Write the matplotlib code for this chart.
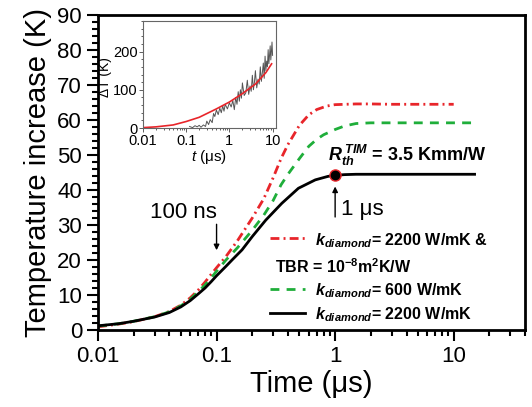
import numpy as np
import matplotlib
matplotlib.use('Agg')
import matplotlib.pyplot as plt
from matplotlib.lines import Line2D
from matplotlib.ticker import MultipleLocator, LogLocator, NullFormatter, FixedLocator

plt.rcParams['font.family'] = ['Liberation Sans', 'DejaVu Sans']
plt.rcParams['mathtext.fontset'] = 'custom'
plt.rcParams['mathtext.rm'] = 'Liberation Sans'
plt.rcParams['mathtext.it'] = 'Liberation Sans:italic'
plt.rcParams['mathtext.bf'] = 'Liberation Sans:bold'
plt.rcParams['mathtext.bfit'] = 'Liberation Sans:italic:bold'

# main curves: time (us) vs temperature increase (K)
t_red = [0.01, 0.015, 0.02, 0.03, 0.04, 0.05, 0.06, 0.07, 0.08, 0.09, 0.1, 0.12, 0.15, 0.2,
         0.25, 0.3, 0.35, 0.4, 0.5, 0.6, 0.7, 0.85, 1.0, 1.5, 2, 3, 5, 10]
T_red = [0.9, 1.7, 2.4, 3.8, 5.3, 7.1, 9.2, 11.4, 13.7, 15.9, 17.8, 21.0, 25.5, 32.0,
         37.5, 43.5, 49.0, 53.0, 58.5, 61.5, 63.0, 64.0, 64.4, 64.6, 64.6, 64.5, 64.5, 64.5]
t_green = [0.01, 0.015, 0.02, 0.03, 0.04, 0.05, 0.06, 0.07, 0.08, 0.09, 0.1, 0.12, 0.15, 0.2,
           0.25, 0.3, 0.35, 0.4, 0.5, 0.6, 0.7, 0.8, 1.0, 1.2, 1.5, 2, 3, 5, 10, 15]
T_green = [1.1, 1.8, 2.5, 3.8, 5.2, 6.9, 8.8, 10.9, 12.9, 14.9, 16.8, 20.0, 23.5, 28.5,
           32.8, 37.0, 41.5, 44.5, 49.0, 52.5, 54.5, 55.8, 57.3, 58.3, 59.0, 59.2, 59.2, 59.2,
           59.2, 59.2]
t_black = [0.01, 0.015, 0.02, 0.03, 0.04, 0.05, 0.06, 0.07, 0.08, 0.09, 0.1, 0.12, 0.135, 0.164,
           0.2, 0.26, 0.355, 0.49, 0.68, 0.87, 1.0, 1.2, 1.5, 2, 3, 5, 10, 15]
T_black = [1.2, 1.8, 2.5, 3.7, 5.0, 6.6, 8.4, 10.3, 12.0, 13.8, 15.5, 18.2, 20.0, 22.9,
           26.7, 31.4, 36.2, 40.5, 42.9, 43.9, 44.2, 44.4, 44.5, 44.5, 44.5, 44.5, 44.5, 44.5]
mark_t, mark_T = 1.0, 44.2

# inset: fit (red) and measured trace (gray)
t_fit = [0.01, 0.02, 0.05, 0.1, 0.2, 0.5, 1, 2, 4, 7, 9.5]
T_fit = [1, 3, 8, 17, 28, 50, 68, 90, 115, 145, 168]
t_meas = [0.12, 0.14, 0.16, 0.18, 0.2, 0.22, 0.25, 0.28, 0.3, 0.33, 0.36, 0.4, 0.43, 0.46,
          0.5, 0.55, 0.6, 0.65, 0.7, 0.75, 0.8, 0.9, 1.0, 1.1, 1.2, 1.3, 1.4, 1.5, 1.6, 1.7,
          1.8, 1.9, 2.0, 2.2, 2.4, 2.6, 2.8, 3.0, 3.2, 3.4, 3.6, 3.8, 4.0, 4.3, 4.6, 4.9,
          5.2, 5.5, 5.8, 6.1, 6.4, 6.7, 7.0, 7.3, 7.6, 7.9, 8.2, 8.5, 8.8, 9.1, 9.4, 9.7, 10.0]
T_meas = [4, 1, 6, 3, 7, 2, 8, 4, 18, 9, 22, 14, 38, 30, 47, 35, 52, 40, 58, 44, 62, 50,
          66, 55, 72, 48, 80, 62, 95, 70, 100, 78, 118, 85, 92, 125, 88, 110, 96, 138, 100,
          120, 150, 105, 128, 115, 160, 122, 145, 170, 130, 188, 150, 175, 160, 205, 168, 190,
          215, 178, 200, 225, 190]

fig = plt.figure(figsize=(5.32, 4.07), dpi=100)
ax = fig.add_axes([0.1842, 0.1892, 0.8028, 0.7738])

ax.plot(t_red, T_red, color='#e8252a', lw=2, dashes=(3.2, 1.5, 0.7, 1.5))
ax.plot(t_green, T_green, color='#1fae3a', lw=2, dashes=(3.2, 2.6))
ax.plot(t_black, T_black, color='black', lw=2)
ax.plot([mark_t], [mark_T], 'o', ms=8, mfc='black', mec='#e8252a', mew=1)

ax.set_xscale('log')
ax.set_xlim(0.01, 40)
ax.set_ylim(0, 90)
ax.yaxis.set_major_locator(MultipleLocator(10))
ax.yaxis.set_minor_locator(MultipleLocator(2))
ax.xaxis.set_major_locator(FixedLocator([0.01, 0.1, 1, 10]))
ax.xaxis.set_minor_locator(LogLocator(base=10, subs=np.arange(2, 10)))
ax.xaxis.set_minor_formatter(NullFormatter())
ax.set_xticklabels(['0.01', '0.1', '1', '10'])
ax.tick_params(which='both', direction='out', top=False, right=False, width=1.5, labelsize=16)
ax.tick_params(which='major', length=8)
ax.tick_params(which='minor', length=4)
for s in ax.spines.values():
    s.set_linewidth(2)
ax.set_xlabel('Time (μs)', fontsize=21, labelpad=2)
ax.set_ylabel('Temperature increase (K)', fontsize=21, labelpad=4)

# annotations
ax.annotate('', xy=(0.1, 22), xytext=(0.1, 31),
            arrowprops=dict(arrowstyle='-|>', color='black', lw=1, mutation_scale=8))
ax.text(0.053, 33.6, '100 ns', fontsize=16, ha='center', va='center')
ax.annotate('', xy=(mark_t, 41.8), xytext=(mark_t, 31.5),
            arrowprops=dict(arrowstyle='-|>', color='black', lw=1, mutation_scale=8))
ax.text(1.12, 34.3, '1 μs', fontsize=16, ha='left', va='center')
ax.text(0.87, 48.3, r'$\mathbfit{R}_{\mathbfit{th}}^{\ \mathbfit{TIM}}$ = 3.5 Kmm/W',
        fontsize=13, fontweight='bold', ha='left', va='baseline')

# hand-placed legend
tr = ax.transAxes
ax.add_line(Line2D([0.403, 0.485], [0.291, 0.291], transform=tr, color='#e8252a', lw=2,
                   dashes=(3.2, 1.5, 0.7, 1.5)))
ax.add_line(Line2D([0.403, 0.485], [0.130, 0.130], transform=tr, color='#1fae3a', lw=2,
                   dashes=(3.2, 2.6)))
ax.add_line(Line2D([0.403, 0.485], [0.053, 0.053], transform=tr, color='black', lw=2))
kd = r'$\mathbfit{k}_{\mathbfit{diamond}}$'
ax.text(0.508, 0.270, kd + '= 2200 W/mK &', transform=tr, fontsize=11.5, fontweight='bold',
        va='baseline')
ax.text(0.415, 0.182, r'TBR = 10$^{\mathbf{-8}}$m$^{\mathbf{2}}$K/W', transform=tr,
        fontsize=11.5, fontweight='bold', va='baseline')
ax.text(0.508, 0.111, kd + '= 600 W/mK', transform=tr, fontsize=11.5, fontweight='bold',
        va='baseline')
ax.text(0.508, 0.035, kd + '= 2200 W/mK', transform=tr, fontsize=11.5, fontweight='bold',
        va='baseline')

# inset
ins = fig.add_axes([0.2688, 0.6855, 0.2500, 0.2629])
ins.plot(t_meas, T_meas, color='#555555', lw=0.7)
ins.plot(t_fit, T_fit, color='#e8252a', lw=1.2)
ins.set_xscale('log')
ins.set_xlim(0.01, 12)
ins.set_ylim(0, 280)
ins.xaxis.set_major_locator(FixedLocator([0.01, 0.1, 1, 10]))
ins.xaxis.set_minor_locator(LogLocator(base=10, subs=np.arange(2, 10)))
ins.xaxis.set_minor_formatter(NullFormatter())
ins.set_xticklabels(['0.01', '0.1', '1', '10'])
ins.yaxis.set_major_locator(MultipleLocator(100))
ins.yaxis.set_minor_locator(MultipleLocator(20))
ins.tick_params(which='both', direction='out', top=False, right=False, labelsize=10.5,
                width=0.6, colors='#444444', labelcolor='black', pad=1)
ins.tick_params(which='major', length=3)
ins.tick_params(which='minor', length=1.5)
for s in ins.spines.values():
    s.set_linewidth(0.8)
    s.set_color('#666666')
ins.set_xlabel(r'$\mathit{t}$ (μs)', fontsize=11, labelpad=0)
ins.set_ylabel('ΔT (K)', fontsize=10, labelpad=-1)
ins.yaxis.set_label_coords(-0.23, 0.48)

fig.savefig('out.png', dpi=100)
